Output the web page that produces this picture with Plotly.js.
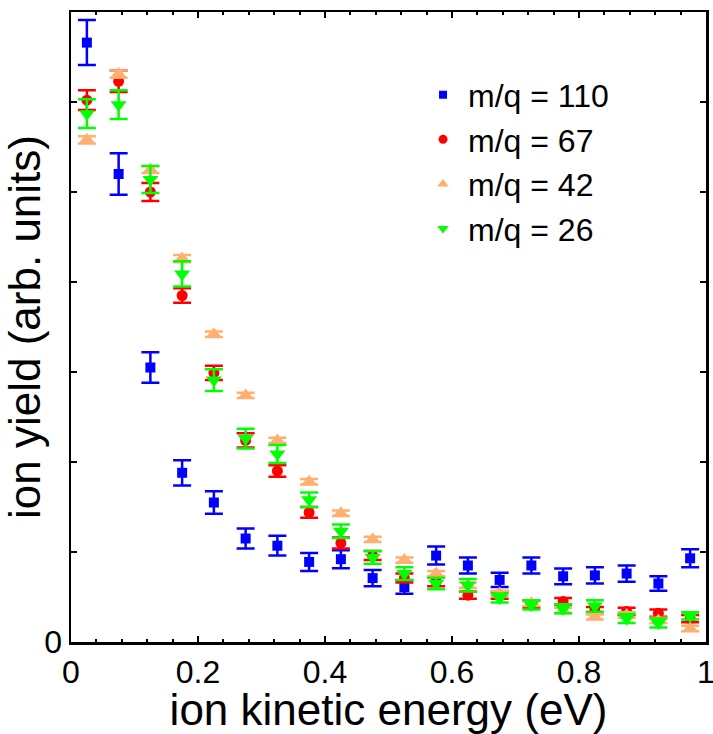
<!DOCTYPE html>
<html>
<head>
<meta charset="utf-8">
<script src="https://cdn.plot.ly/plotly-3.0.1.min.js"></script>
<style>html,body{margin:0;padding:0;background:#fff;}#chart{width:713px;height:734px;}</style>
</head>
<body>
<div id="chart"></div>
<script>
// ion kinetic energy bin centres (eV)
const energy = [0.025,0.075,0.125,0.175,0.225,0.275,0.325,0.375,0.425,0.475,0.525,0.575,0.625,0.675,0.725,0.775,0.825,0.875,0.925,0.975];

// m/q = 110
const yield110 = [6.66,5.20,3.05,1.88,1.55,1.15,1.07,0.89,0.92,0.71,0.61,0.96,0.85,0.69,0.85,0.73,0.74,0.76,0.65,0.93];
const err110   = [0.25,0.23,0.17,0.14,0.125,0.11,0.11,0.10,0.10,0.09,0.075,0.10,0.09,0.08,0.09,0.087,0.09,0.09,0.08,0.10];

// m/q = 67
const yield67 = [6.02,6.23,5.00,3.85,2.99,2.24,1.90,1.44,1.10,0.96,0.71,0.67,0.52,0.52,0.42,0.45,0.35,0.34,0.32,0.26];
const err67   = [0.11,0.12,0.10,0.08,0.08,0.08,0.065,0.06,0.06,0.05,0.05,0.05,0.04,0.04,0.04,0.04,0.04,0.04,0.04,0.04];

// m/q = 42
const yield42 = [5.58,6.31,5.25,4.26,3.42,2.74,2.24,1.78,1.43,1.14,0.91,0.76,0.63,0.54,0.43,0.35,0.28,0.30,0.24,0.15];
const err42   = [0.04,0.04,0.04,0.04,0.03,0.03,0.03,0.03,0.03,0.03,0.03,0.03,0.03,0.03,0.03,0.03,0.03,0.03,0.03,0.03];

// m/q = 26
const yield26 = [5.87,5.97,5.14,4.09,2.91,2.26,2.09,1.58,1.23,0.94,0.76,0.65,0.63,0.49,0.41,0.37,0.40,0.26,0.21,0.29];
const err26   = [0.16,0.16,0.15,0.14,0.12,0.11,0.10,0.08,0.075,0.07,0.07,0.065,0.07,0.05,0.05,0.05,0.065,0.05,0.05,0.04];

const seriesNames = ['m/q = 110','m/q = 67','m/q = 42','m/q = 26'];
const xTickVals = [0,0.2,0.4,0.6,0.8,1];
const xTickText = ['0','0.2','0.4','0.6','0.8','1'];
const yTickVals = [0,1,2,3,4,5,6,7];
const yTickText = ['0','','','','','','',''];

const colors = ['#0000ff','#ff0000','#ffb070','#00ff00'];
const symbols = ['square','circle','triangle-up','triangle-down'];
const sizes = [10,11,14,14];
const legendSizes = [8,9,10,10];
const ys = [yield110, yield67, yield42, yield26];
const es = [err110, err67, err42, err26];

const traces = [];
for (let i = 0; i < 4; i++) {
  traces.push({
    x: energy, y: ys[i], type: 'scatter', mode: 'markers',
    marker: {symbol: symbols[i], color: colors[i], size: sizes[i], line: {width: 0}},
    error_y: {type: 'data', array: es[i], visible: true, color: colors[i], thickness: 2.5, width: 9},
    showlegend: false, hoverinfo: 'skip'
  });
}
for (let i = 0; i < 4; i++) {
  traces.push({
    x: [null], y: [null], type: 'scatter', mode: 'markers', name: seriesNames[i],
    marker: {symbol: symbols[i], color: colors[i], size: legendSizes[i], line: {width: 0}},
    showlegend: true
  });
}

const font = {family: 'Liberation Sans, Arial, sans-serif', color: '#000'};
const layout = {
  width: 713, height: 734,
  margin: {l: 71, r: 7, t: 12, b: 92},
  paper_bgcolor: '#fff', plot_bgcolor: '#fff',
  showlegend: true,
  legend: {x: 0.5465, y: 0.912, xanchor: 'left', yanchor: 'top', bgcolor: 'rgba(0,0,0,0)',
           borderwidth: 0, itemwidth: 40, tracegroupgap: 0,
           font: Object.assign({}, font, {size: 32})},
  xaxis: {
    range: [0, 1], tickvals: xTickVals, ticktext: xTickText,
    ticks: 'inside', ticklen: 6, tickwidth: 2, tickcolor: '#000',
    showline: true, linewidth: 2.5, linecolor: '#000', mirror: 'ticks',
    showgrid: false, zeroline: false, ticklabeloverflow: 'allow',
    minor: {dtick: 0.04, tick0: 0, ticks: 'inside', ticklen: 3, tickwidth: 2, tickcolor: '#000', showgrid: false},
    tickfont: Object.assign({}, font, {size: 32}),
    title: {text: 'ion kinetic energy (eV)', font: Object.assign({}, font, {size: 44}), standoff: 4}
  },
  yaxis: {
    range: [0, 7], tickvals: yTickVals, ticktext: yTickText,
    ticks: 'inside', ticklen: 6, tickwidth: 2, tickcolor: '#000',
    showline: true, linewidth: 2.5, linecolor: '#000', mirror: 'ticks',
    showgrid: false, zeroline: false,
    tickfont: Object.assign({}, font, {size: 32}),
    title: {text: 'ion yield (arb. units)\u00a0', font: Object.assign({}, font, {size: 44}), standoff: 4}
  }
};

Plotly.newPlot('chart', traces, layout, {displayModeBar: false, staticPlot: true});
</script>
</body>
</html>
